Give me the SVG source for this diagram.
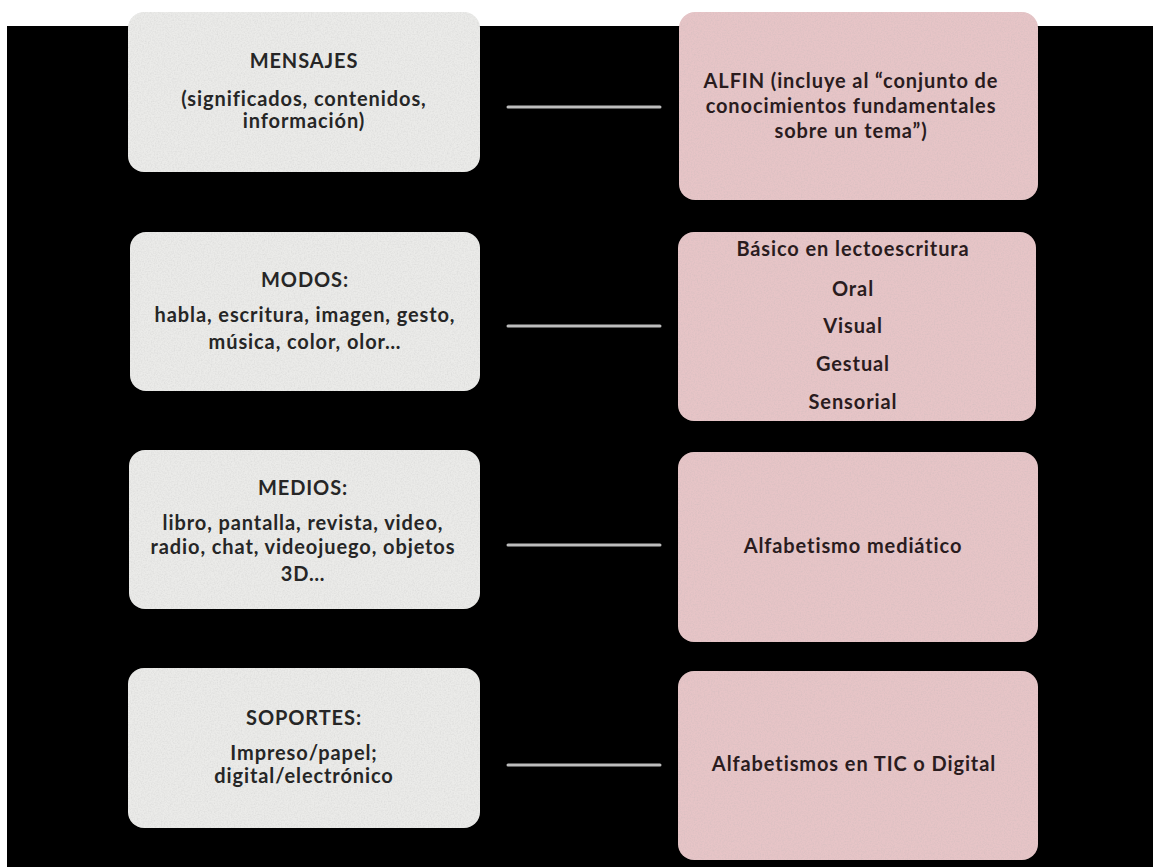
<svg xmlns="http://www.w3.org/2000/svg" width="1153" height="867" viewBox="0 0 1153 867">
<defs>
<style>
.bg{fill:#000}
.g{fill:#ebebe9;filter:url(#tex)}
.p{fill:#e7c5c7;filter:url(#tex)}
.t{font-family:Lato,"Liberation Sans",sans-serif;font-weight:700;font-size:20px;letter-spacing:0.9px;text-anchor:middle;fill:#262626}
.tp{fill:#2a1c1e}
.c{stroke:#bdbdbd;stroke-width:3;fill:none;stroke-linecap:round}
</style>
<filter id="tex" x="0" y="0" width="1" height="1">
<feTurbulence type="fractalNoise" baseFrequency="0.7" numOctaves="2" seed="4" result="n"/>
<feColorMatrix in="n" type="matrix" values="0 0 0 0 0.45  0 0 0 0 0.45  0 0 0 0 0.45  0 0 0 0.5 -0.18" result="a"/>
<feComposite in="a" in2="SourceGraphic" operator="in" result="m"/>
<feMerge><feMergeNode in="SourceGraphic"/><feMergeNode in="m"/></feMerge>
</filter>
</defs>
<rect width="1153" height="867" fill="#fff"/>
<rect class="bg" x="7" y="26" width="1146" height="841"/>
<g id="n-mensajes">
<rect class="g" x="128" y="12" width="352" height="160" rx="16"/>
<text class="t" x="304" y="68">MENSAJES</text>
<text class="t" x="304" y="106">(significados, contenidos,</text>
<text class="t" x="304" y="128">información)</text>
</g>
<g id="n-alfin">
<rect class="p" x="679" y="12" width="359" height="188" rx="16"/>
<text class="t tp" x="851" y="88">ALFIN (incluye al “conjunto de</text>
<text class="t tp" x="851" y="113">conocimientos fundamentales</text>
<text class="t tp" x="851" y="138">sobre un tema”)</text>
</g>
<g id="n-modos">
<rect class="g" x="130" y="232" width="350" height="159" rx="16"/>
<text class="t" x="305" y="287">MODOS:</text>
<text class="t" x="305" y="322">habla, escritura, imagen, gesto,</text>
<text class="t" x="305" y="349">música, color, olor…</text>
</g>
<g id="n-basico">
<rect class="p" x="678" y="232" width="358" height="189" rx="16"/>
<text class="t tp" x="853" y="256">Básico en lectoescritura</text>
<text class="t tp" x="853" y="296">Oral</text>
<text class="t tp" x="853" y="333">Visual</text>
<text class="t tp" x="853" y="371">Gestual</text>
<text class="t tp" x="853" y="409">Sensorial</text>
</g>
<g id="n-medios">
<rect class="g" x="129" y="450" width="351" height="159" rx="16"/>
<text class="t" x="303" y="495">MEDIOS:</text>
<text class="t" x="303" y="530">libro, pantalla, revista, video,</text>
<text class="t" x="303" y="554">radio, chat, videojuego, objetos</text>
<text class="t" x="303" y="581">3D…</text>
</g>
<g id="n-mediatico">
<rect class="p" x="678" y="452" width="360" height="190" rx="16"/>
<text class="t tp" x="853" y="553">Alfabetismo mediático</text>
</g>
<g id="n-soportes">
<rect class="g" x="128" y="668" width="352" height="160" rx="16"/>
<text class="t" x="304" y="725">SOPORTES:</text>
<text class="t" x="304" y="760">Impreso/papel;</text>
<text class="t" x="304" y="783">digital/electrónico</text>
</g>
<g id="n-tic">
<rect class="p" x="678" y="671" width="360" height="189" rx="16"/>
<text class="t tp" x="854" y="771">Alfabetismos en TIC o Digital</text>
</g>
<g id="connectors">
<line class="c" x1="508" y1="107" x2="660" y2="107"/>
<line class="c" x1="508" y1="326" x2="660" y2="326"/>
<line class="c" x1="508" y1="545" x2="660" y2="545"/>
<line class="c" x1="508" y1="765" x2="660" y2="765"/>
</g>
</svg>
